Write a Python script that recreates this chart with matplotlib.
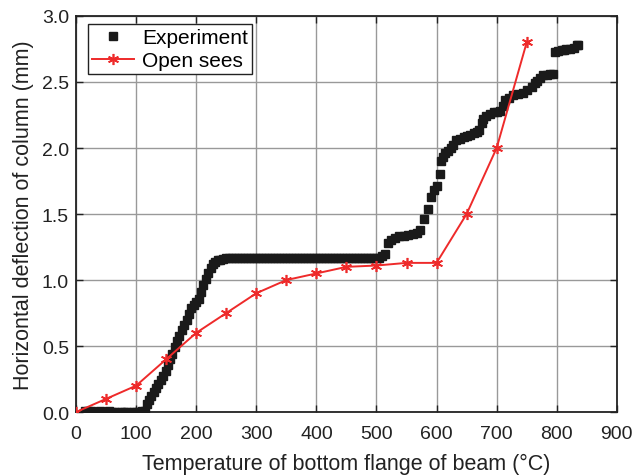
import matplotlib
matplotlib.use("Agg")
import matplotlib.pyplot as plt
import numpy as np

plt.rcParams["font.family"] = ["Liberation Sans", "DejaVu Sans"]

# Measured deflection (test) vs. bottom-flange temperature
exp_temp = [
    15, 20, 25, 30, 35, 40, 45, 50, 55, 60, 65, 70, 75, 80, 85, 90, 95, 100,
    105, 110, 115,
    118, 121, 125, 129, 133, 137, 141, 145, 149, 153, 156, 160, 164, 168,
    172, 176, 180, 184, 188, 192, 196, 200, 204, 208, 212, 216, 220, 224,
    228, 232, 236, 240, 245, 250, 255,
    260, 265, 270, 275, 280, 285, 290, 295, 300, 305, 310, 315, 320, 325,
    330, 335, 340, 345, 350, 355, 360, 365, 370, 375, 380, 385, 390, 395,
    400, 405, 410, 415, 420, 425, 430, 435, 440, 445, 450, 455, 460, 465,
    470, 475, 480, 485, 490, 495, 500,
    505, 510, 515, 520, 525, 531, 538, 545, 553, 561, 567, 572, 579, 585,
    591, 596, 601, 605, 607, 610, 614, 619, 624, 628, 633, 639, 645, 650,
    656, 662, 667, 671, 675, 678, 683, 689, 695, 700, 705, 710, 714, 720,
    728, 736, 744, 750, 758, 763, 767, 772, 777, 783, 789, 794,
    797, 802, 808, 812, 816, 822, 828, 833, 836,
]
exp_defl = [
    0.01, 0.005, 0.005, 0.0, 0.0, 0.005, 0.0, 0.0, 0.005, 0.0, 0.0, -0.005,
    0.0, 0.0, 0.0, -0.005, 0.0, 0.0, 0.0, 0.005, 0.005,
    0.06, 0.09, 0.12, 0.15, 0.18, 0.21, 0.24, 0.27, 0.31, 0.36, 0.40, 0.44,
    0.49, 0.54, 0.58, 0.62, 0.66, 0.70, 0.74, 0.79, 0.81, 0.83, 0.86, 0.91,
    0.96, 1.01, 1.05, 1.09, 1.12, 1.14, 1.15, 1.155, 1.16, 1.165, 1.165,
    1.165, 1.17, 1.17, 1.165, 1.165, 1.17, 1.165, 1.165, 1.17, 1.165,
    1.165, 1.165, 1.17, 1.165, 1.165, 1.165, 1.17, 1.165, 1.165, 1.165,
    1.165, 1.17, 1.165, 1.165, 1.165, 1.165, 1.17, 1.165, 1.165, 1.17,
    1.165, 1.165, 1.165, 1.17, 1.165, 1.165, 1.17, 1.165, 1.165, 1.165,
    1.17, 1.165, 1.165, 1.165, 1.17, 1.165, 1.165, 1.17, 1.17,
    1.17, 1.18, 1.20, 1.28, 1.30, 1.32, 1.33, 1.335, 1.34, 1.35, 1.36, 1.38,
    1.46, 1.54, 1.63, 1.68, 1.71, 1.80, 1.90, 1.93, 1.96, 1.98, 2.00, 2.02,
    2.06, 2.07, 2.08, 2.09, 2.10, 2.11, 2.12, 2.14, 2.19, 2.22, 2.24, 2.26,
    2.27, 2.27, 2.28, 2.32, 2.36, 2.38, 2.40, 2.41, 2.42, 2.44, 2.46, 2.49,
    2.51, 2.53, 2.55, 2.555, 2.56, 2.56,
    2.73, 2.735, 2.74, 2.745, 2.75, 2.75, 2.76, 2.78, 2.78,
]

# OpenSees prediction
sim_temp = [0, 50, 100, 150, 200, 250, 300, 350, 400, 450, 500, 550, 600,
            650, 700, 750]
sim_defl = [0.0, 0.1, 0.2, 0.4, 0.6, 0.75, 0.9, 1.0, 1.05, 1.1, 1.11, 1.13,
            1.13, 1.5, 2.0, 2.8]

x_ticks = np.arange(0, 901, 100)
y_ticks = np.arange(0, 3.01, 0.5)

fig = plt.figure(figsize=(6.32, 4.77), dpi=100)
ax = fig.add_axes([0.1203, 0.134, 0.8557, 0.8304])

ax.plot(exp_temp, exp_defl, ls="none", marker="s", ms=5.4, color="#1a1a1a",
        mec="#1a1a1a", label="Experiment", zorder=3)
ax.plot(sim_temp, sim_defl, color="#ee2a2a", lw=1.4, marker=(6, 2, 0),
        ms=8, mew=1.2, label="Open sees", zorder=4)

ax.set_xlim(0, 900)
ax.set_ylim(0, 3.0)
ax.set_xticks(x_ticks)
ax.set_yticks(y_ticks)
ax.set_yticklabels([f"{v:.1f}" for v in y_ticks])
ax.grid(True, color="#999999", lw=1.0)
ax.set_axisbelow(True)
ax.tick_params(direction="in", top=True, right=True, labelsize=14,
               length=5, width=1.0, colors="#222222")
ax.tick_params(axis="x", pad=9)
ax.tick_params(axis="y", pad=5)
for s in ax.spines.values():
    s.set_linewidth(1.3)
    s.set_color("#222222")

ax.set_xlabel("Temperature of bottom flange of beam (\u00b0C)", fontsize=15.5,
              color="#222222", labelpad=8)
ax.set_ylabel("Horizontal deflection of column (mm)", fontsize=15.5,
              color="#222222", labelpad=6)

leg = ax.legend(loc="upper left", bbox_to_anchor=(0.022, 0.98), fontsize=15,
                frameon=True, fancybox=False, edgecolor="#222222",
                framealpha=1, borderpad=0.2, labelspacing=0.2,
                handlelength=2.0, handletextpad=0.4, borderaxespad=0.0)
leg.get_frame().set_linewidth(1.0)

fig.savefig("out.png", dpi=100)
